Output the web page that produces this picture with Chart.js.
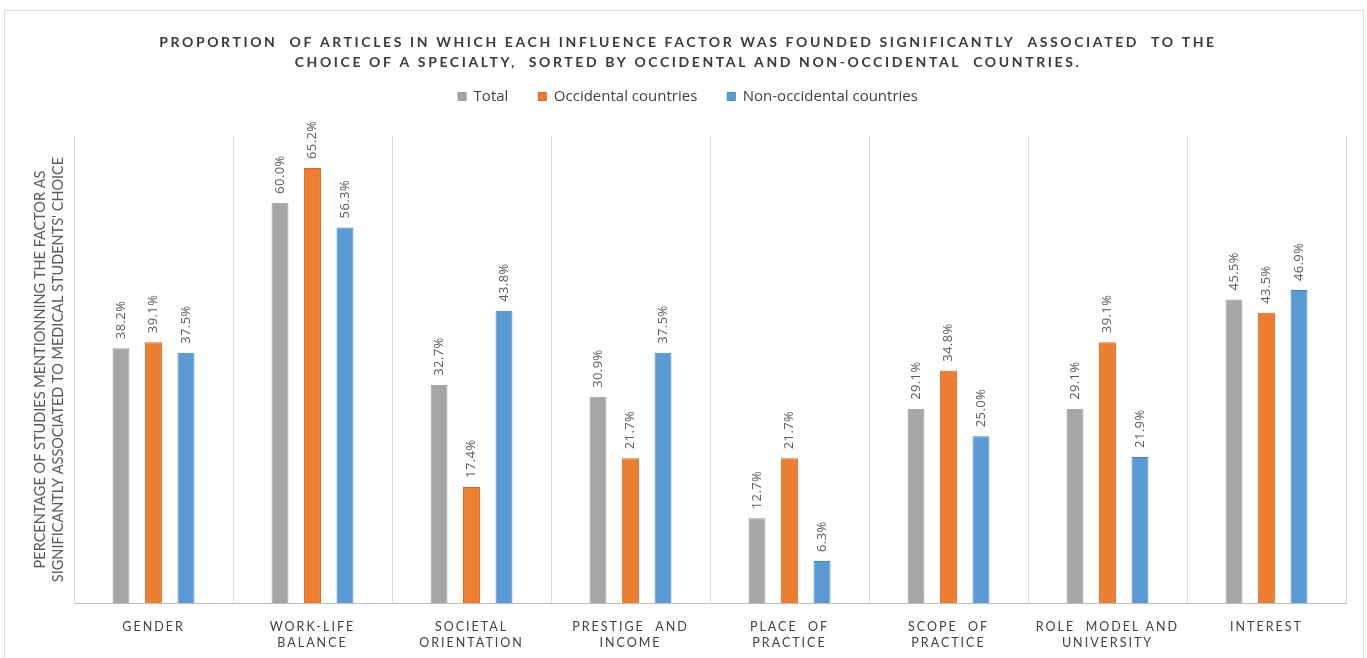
<!DOCTYPE html>
<html>
<head>
<meta charset="utf-8">
<title>Influence factors by specialty choice</title>
<script src="https://cdn.jsdelivr.net/npm/chart.js@4.4.1/dist/chart.umd.min.js"></script>
<style>
  html, body { margin: 0; padding: 0; background: #fff; }
  #wrap { position: relative; width: 1367px; height: 658px; overflow: hidden; }
  #frame { position: absolute; left: 4px; top: 10px; width: 1358px; height: 660px;
           border: 1px solid #d9d9d9; pointer-events: none; }
</style>
</head>
<body>
<div id="wrap">
  <canvas id="chart" width="1367" height="658"></canvas>
  <div id="frame"></div>
</div>
<script>
// categories (multi-line labels)
const factors = [
  ["GENDER"],
  ["WORK-LIFE", "BALANCE"],
  ["SOCIETAL", "ORIENTATION"],
  ["PRESTIGE  AND", "INCOME"],
  ["PLACE  OF", "PRACTICE"],
  ["SCOPE  OF", "PRACTICE"],
  ["ROLE  MODEL AND", "UNIVERSITY"],
  ["INTEREST"]
];

// % of articles
const total         = [38.2, 60.0, 32.7, 30.9, 12.7, 29.1, 29.1, 45.5];
const occidental    = [39.1, 65.2, 17.4, 21.7, 21.7, 34.8, 39.1, 43.5];
const nonOccidental = [37.5, 56.3, 43.8, 37.5, 6.3, 25.0, 21.9, 46.9];

const seriesNames = ["Total", "Occidental countries", "Non-occidental countries"];

const titleLines = [
  "PROPORTION  OF ARTICLES IN WHICH EACH INFLUENCE FACTOR WAS FOUNDED SIGNIFICANTLY  ASSOCIATED  TO THE",
  "CHOICE OF A SPECIALTY,  SORTED BY OCCIDENTAL AND NON-OCCIDENTAL  COUNTRIES."
];
const yTitle = [
  "PERCENTAGE OF STUDIES MENTIONNING THE FACTOR AS",
  "SIGNIFICANTLY ASSOCIATED TO MEDICAL STUDENTS' CHOICE"
];

const FONT = "Lato, 'Liberation Sans', sans-serif";
const SOFT = "'Open Sans', 'Liberation Sans', sans-serif";

// title drawn by hand so it can be letter-spaced
const titlePlugin = {
  id: "spacedTitle",
  afterDraw(chart) {
    const ctx = chart.ctx;
    ctx.save();
    ctx.font = "bold 14px " + FONT;
    ctx.fillStyle = "#3a3a3a";
    ctx.textAlign = "center";
    ctx.textBaseline = "middle";
    ctx.letterSpacing = "2.6px";
    titleLines.forEach((line, i) => ctx.fillText(line, 688, 42 + i * 20));
    ctx.restore();
  }
};

// extra room between the legend row and the plot, legend nudged right
const legendGap = {
  id: "legendGap",
  beforeLayout(chart) {
    const lg = chart.legend;
    if (lg && !lg._gapAdded) {
      const fit = lg.fit;
      lg.fit = function () { fit.call(this); this.height += 22; };
      lg._gapAdded = true;
    }
  },
  afterLayout(chart) {
    chart.legend.left += 15;
    chart.legend.right += 15;
  }
};

// letter-spaced category labels under the x axis
const categoryLabels = {
  id: "categoryLabels",
  afterDraw(chart) {
    const ctx = chart.ctx;
    const xs = chart.scales.x;
    ctx.save();
    ctx.font = "12.5px " + FONT;
    ctx.fillStyle = "#404040";
    ctx.textAlign = "center";
    ctx.textBaseline = "middle";
    ctx.letterSpacing = "2px";
    factors.forEach((lines, i) => {
      const x = xs.getPixelForValue(i);
      lines.forEach((t, j) => ctx.fillText(t, x, xs.top + 24 + j * 16));
    });
    ctx.restore();
  }
};

// rotated value labels above each bar
const valueLabels = {
  id: "valueLabels",
  afterDatasetsDraw(chart) {
    const ctx = chart.ctx;
    ctx.save();
    ctx.font = "13px " + SOFT;
    ctx.fillStyle = "#595959";
    ctx.textAlign = "left";
    ctx.textBaseline = "middle";
    ctx.letterSpacing = "0.4px";
    chart.data.datasets.forEach((ds, di) => {
      chart.getDatasetMeta(di).data.forEach((bar, i) => {
        ctx.save();
        ctx.translate(bar.x, bar.y - 9);
        ctx.rotate(-Math.PI / 2);
        ctx.fillText(ds.data[i].toFixed(1) + "%", 0, 0);
        ctx.restore();
      });
    });
    ctx.restore();
  }
};

new Chart(document.getElementById("chart"), {
  type: "bar",
  data: {
    labels: factors,
    datasets: [
      { label: seriesNames[0], data: total, backgroundColor: "#a5a5a5", borderColor: "#999999", borderWidth: 1 },
      { label: seriesNames[1], data: occidental, backgroundColor: "#ed7d31", borderColor: "#e0661a", borderWidth: 1 },
      { label: seriesNames[2], data: nonOccidental, backgroundColor: "#5b9bd5", borderColor: "#3d85c6", borderWidth: 1 }
    ]
  },
  options: {
    responsive: false,
    animation: false,
    categoryPercentage: 0.613,
    barPercentage: 0.52,
    layout: { padding: { top: 59, right: 21, left: 0, bottom: 0 } },
    plugins: {
      title: { display: false },
      tooltip: { enabled: false },
      legend: {
        position: "top",
        labels: {
          boxWidth: 8,
          boxHeight: 8,
          padding: 30,
          color: "#404040",
          font: { family: SOFT, size: 15 }
        }
      }
    },
    scales: {
      x: {
        grid: { display: true, color: "#d9d9d9", drawTicks: false },
        border: { display: true, color: "#bfbfbf" },
        ticks: { display: false },
        afterFit(scale) { scale.height = 55; }
      },
      y: {
        min: 0,
        max: 70,
        grid: { display: false },
        border: { display: false },
        ticks: { display: false },
        title: {
          display: true,
          text: yTitle,
          color: "#595959",
          font: { family: FONT, size: 14.5, lineHeight: 1.2 },
          padding: { top: 32, bottom: 0 }
        },
        afterFit(scale) { scale.width = 74; }
      }
    }
  },
  plugins: [legendGap, titlePlugin, categoryLabels, valueLabels]
});
</script>
</body>
</html>
